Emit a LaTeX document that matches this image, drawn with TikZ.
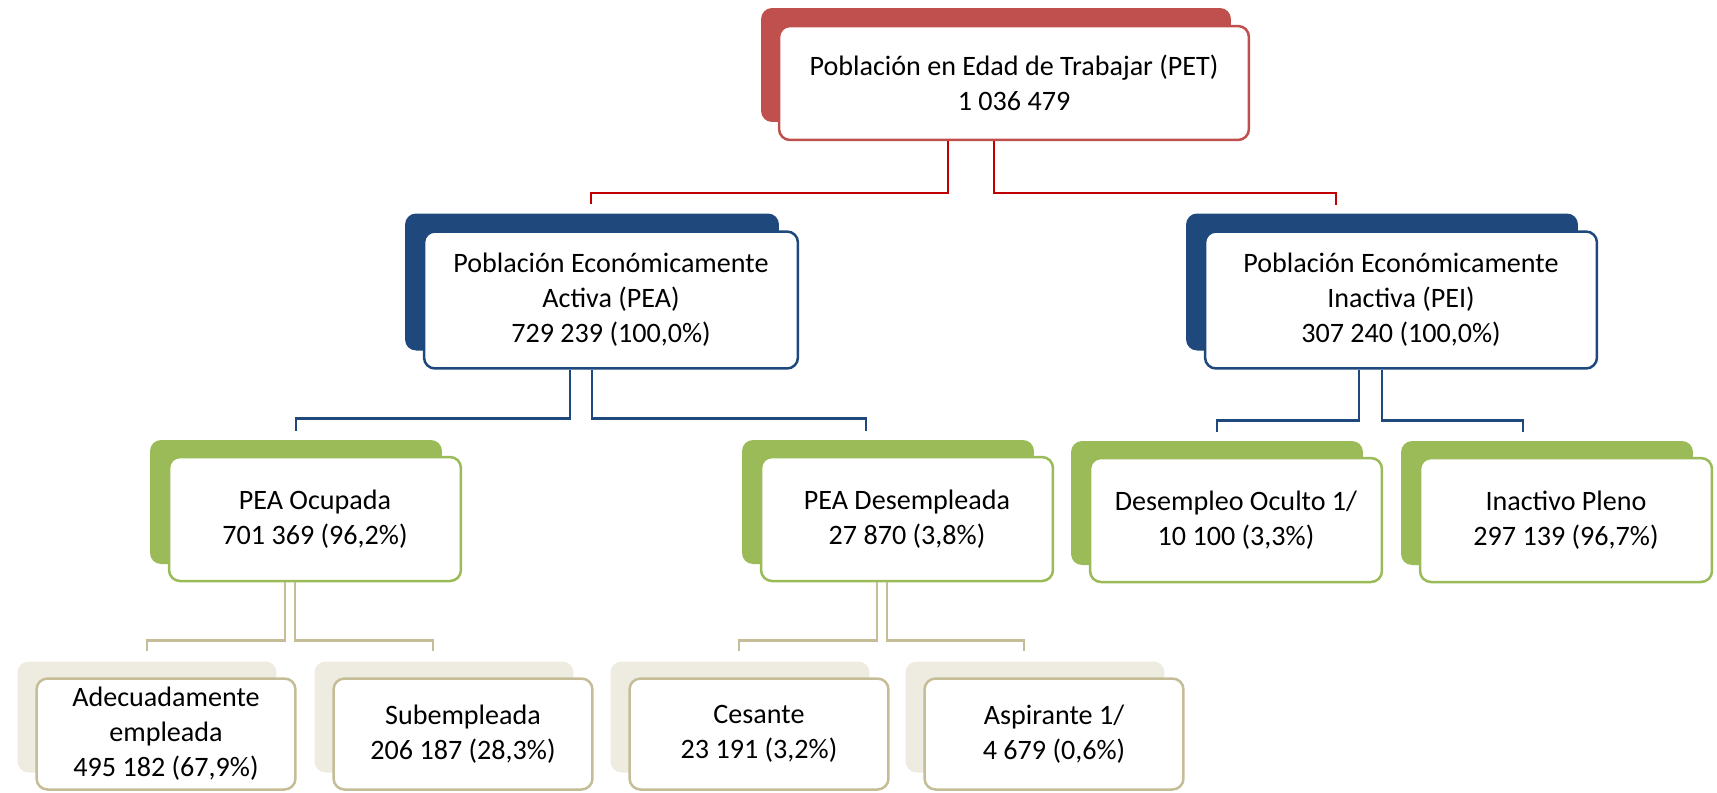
\documentclass[tikz,border=0pt]{standalone}
\usepackage{fontspec}
\setmainfont{Carlito}
\usetikzlibrary{calc, shadows}
\definecolor{petred}{HTML}{C0504D}
\definecolor{linkred}{HTML}{C00000}
\definecolor{peablue}{HTML}{1F497D}
\definecolor{peagreen}{HTML}{9BBB59}
\definecolor{subtan}{HTML}{EEECE1}
\definecolor{tanline}{HTML}{C4BD97}

\begin{document}
\begin{tikzpicture}[x=0.02cm, y=-0.02cm,
			orgbox/.style={fill=white, line width=0.05cm, rounded corners=0.22cm, align=center, inner sep=0pt, font=\fontsize{16}{20}\selectfont},
			redbox/.style={orgbox, draw=petred, minimum width=9.4cm, minimum height=2.28cm, copy shadow={draw=none, fill=petred, shadow xshift=-0.36cm, shadow yshift=0.36cm}},
			bluebox/.style={orgbox, draw=peablue, minimum height=2.74cm, copy shadow={draw=none, fill=peablue, shadow xshift=-0.38cm, shadow yshift=0.36cm}},
			greenbox/.style={orgbox, draw=peagreen, minimum width=5.84cm, minimum height=2.48cm, copy shadow={draw=none, fill=peagreen, shadow xshift=-0.38cm, shadow yshift=0.34cm}},
			tanbox/.style={orgbox, draw=tanline, minimum width=5.18cm, minimum height=2.22cm, copy shadow={draw=none, fill=subtan, shadow xshift=-0.38cm, shadow yshift=0.34cm}},
			redcon/.style={draw=linkred, line width=0.05cm},
			bluecon/.style={draw=peablue, line width=0.05cm},
			tancon/.style={draw=tanline, line width=0.05cm}]
	\useasboundingbox (0,0) rectangle (1717,792);

	\node[redbox] (pet) at (1014,83) {Población en Edad de Trabajar (PET)\\1 036 479};

	\node[bluebox, minimum width=7.48cm] (pea) at (611,300) {Población Económicamente\\Activa (PEA)\\729 239 (100,0\%)};
	\node[bluebox, minimum width=7.84cm] (pei) at (1401,300) {Población Económicamente\\Inactiva (PEI)\\307 240 (100,0\%)};

	\node[greenbox] (ocupada) at (315,519) {PEA Ocupada\\701 369 (96,2\%)};
	\node[greenbox] (desempleada) at (907,519) {PEA Desempleada\\27 870 (3,8\%)};
	\node[greenbox] (oculto) at (1236,520) {Desempleo Oculto 1/\\10 100 (3,3\%)};
	\node[greenbox] (pleno) at (1566,520) {Inactivo Pleno\\297 139 (96,7\%)};

	\node[tanbox] (adecuada) at (166,734) {Adecuadamente\\empleada\\495 182 (67,9\%)};
	\node[tanbox] (subempleada) at (463,734) {Subempleada\\206 187 (28,3\%)};
	\node[tanbox] (cesante) at (759,734) {Cesante\\23 191 (3,2\%)};
	\node[tanbox] (aspirante) at (1054,734) {Aspirante 1/\\4 679 (0,6\%)};

	% conectores
	\draw[redcon] ($(pet.south)+(-66,0)$) -- ++(0,52) -| ($(pea.north)+(-20,-26)$);
	\draw[redcon] ($(pet.south)+(-20,0)$) -- ++(0,52) -| ($(pei.north)+(-65,-25)$);
	\draw[bluecon] ($(pea.south)+(-41,0)$) -- ++(0,49) -| ($(ocupada.north)+(-19,-25)$);
	\draw[bluecon] ($(pea.south)+(-19,0)$) -- ++(0,49) -| ($(desempleada.north)+(-41,-25)$);
	\draw[bluecon] ($(pei.south)+(-42,0)$) -- ++(0,51) -| ($(oculto.north)+(-19,-25)$);
	\draw[bluecon] ($(pei.south)+(-19,0)$) -- ++(0,51) -| ($(pleno.north)+(-43,-25)$);
	\draw[tancon] ($(ocupada.south)+(-30,0)$) -- ++(0,58) -| ($(adecuada.north)+(-19,-26)$);
	\draw[tancon] ($(ocupada.south)+(-20,0)$) -- ++(0,58) -| ($(subempleada.north)+(-30,-26)$);
	\draw[tancon] ($(desempleada.south)+(-30,0)$) -- ++(0,58) -| ($(cesante.north)+(-20,-26)$);
	\draw[tancon] ($(desempleada.south)+(-20,0)$) -- ++(0,58) -| ($(aspirante.north)+(-30,-26)$);
\end{tikzpicture}
\end{document}
